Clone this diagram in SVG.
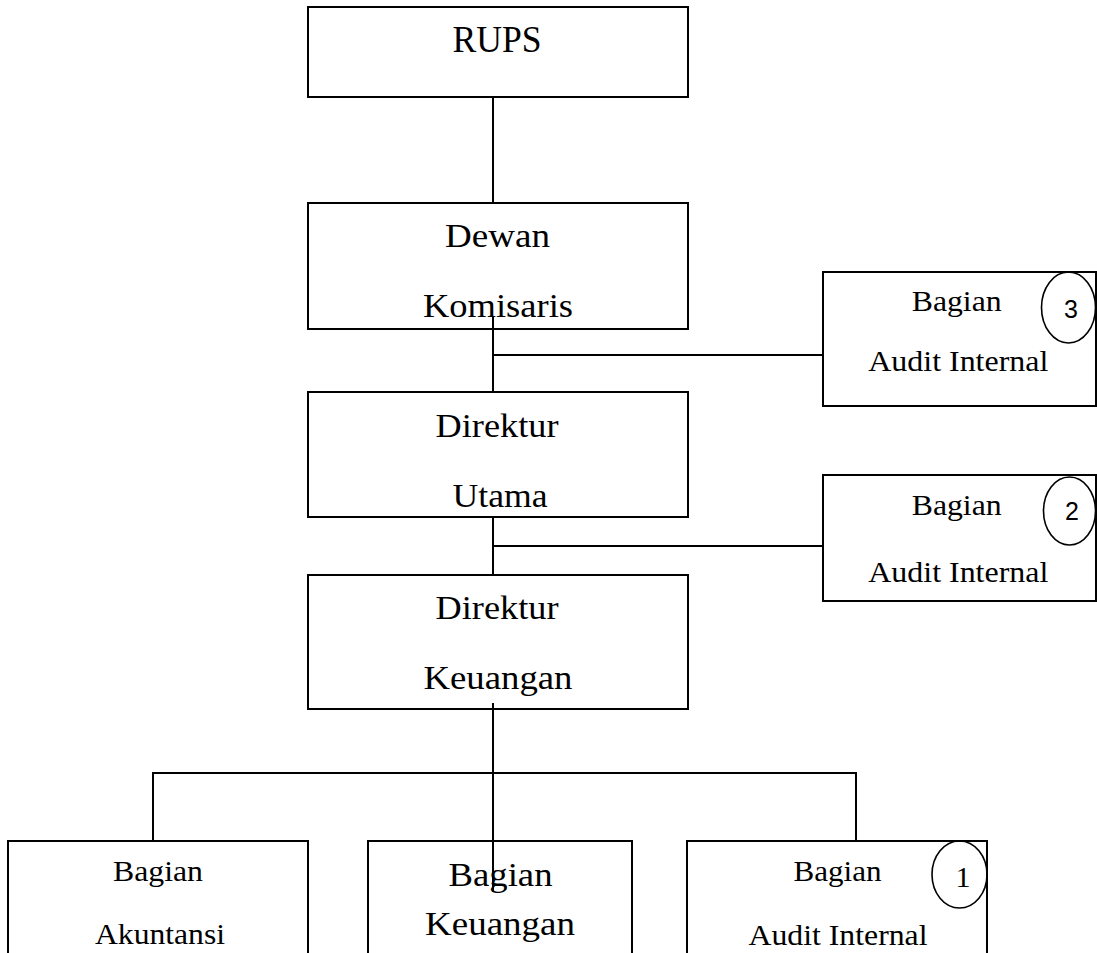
<svg xmlns="http://www.w3.org/2000/svg" width="1097" height="953" viewBox="0 0 1097 953">
<style>
.box{fill:#fff;stroke:#000;stroke-width:2}
.ov{fill:none;stroke:#000;stroke-width:1.6}
.ln{stroke:#000;stroke-width:2;fill:none}
.t{font-family:"Liberation Serif","Times New Roman",serif;fill:#000;text-anchor:middle}
.L{font-size:34px}
.S{font-size:30px}
.n{font-family:"Liberation Sans",Arial,sans-serif;font-size:25px;fill:#000;text-anchor:middle}
</style>
<rect width="1097" height="953" fill="#fff"/>
<g id="node-rups">
<rect class="box" x="308" y="7" width="380" height="90"/>
<text class="t" x="497" y="52" style="font-size:37px" textLength="89" lengthAdjust="spacingAndGlyphs">RUPS</text>
</g>
<g id="node-dewan">
<rect class="box" x="308" y="203" width="380" height="126"/>
<text class="t L" x="497.5" y="247" textLength="105" lengthAdjust="spacingAndGlyphs">Dewan</text>
<text class="t L" x="498" y="317" textLength="150" lengthAdjust="spacingAndGlyphs">Komisaris</text>
</g>
<g id="node-dirut">
<rect class="box" x="308" y="392" width="380" height="125"/>
<text class="t L" x="497" y="437" textLength="123" lengthAdjust="spacingAndGlyphs">Direktur</text>
<text class="t L" x="500" y="507" textLength="95" lengthAdjust="spacingAndGlyphs">Utama</text>
</g>
<g id="node-dirkeu">
<rect class="box" x="308" y="575" width="380" height="134"/>
<text class="t L" x="497" y="619" textLength="123" lengthAdjust="spacingAndGlyphs">Direktur</text>
<text class="t L" x="498" y="689" textLength="149" lengthAdjust="spacingAndGlyphs">Keuangan</text>
</g>
<g id="node-audit3">
<rect class="box" x="823" y="272" width="273" height="134"/>
<text class="t S" x="956.7" y="311" textLength="90" lengthAdjust="spacingAndGlyphs">Bagian</text>
<text class="t S" x="958.3" y="371" textLength="180" lengthAdjust="spacingAndGlyphs">Audit Internal</text>
<ellipse class="ov" cx="1068.5" cy="307.5" rx="27" ry="35.5"/>
<text class="n" x="1071" y="318">3</text>
</g>
<g id="node-audit2">
<rect class="box" x="823" y="475" width="273" height="126"/>
<text class="t S" x="956.7" y="515" textLength="90" lengthAdjust="spacingAndGlyphs">Bagian</text>
<text class="t S" x="958.3" y="582" textLength="180" lengthAdjust="spacingAndGlyphs">Audit Internal</text>
<ellipse class="ov" cx="1069.5" cy="511" rx="26" ry="34"/>
<text class="n" x="1072" y="520">2</text>
</g>
<g id="node-akuntansi">
<rect class="box" x="8" y="841" width="300" height="130"/>
<text class="t S" x="158" y="881" textLength="90" lengthAdjust="spacingAndGlyphs">Bagian</text>
<text class="t S" x="160" y="944" textLength="130" lengthAdjust="spacingAndGlyphs">Akuntansi</text>
</g>
<g id="node-keuangan">
<rect class="box" x="368" y="841" width="264" height="130"/>
<text class="t L" x="500.5" y="886" textLength="104" lengthAdjust="spacingAndGlyphs">Bagian</text>
<text class="t L" x="500" y="935" textLength="150" lengthAdjust="spacingAndGlyphs">Keuangan</text>
</g>
<g id="node-audit1">
<rect class="box" x="687" y="841" width="300" height="130"/>
<text class="t S" x="837.5" y="881" textLength="88" lengthAdjust="spacingAndGlyphs">Bagian</text>
<text class="t S" x="838" y="945" textLength="179" lengthAdjust="spacingAndGlyphs">Audit Internal</text>
<ellipse class="ov" cx="959.5" cy="874.5" rx="27.5" ry="33.5"/>
<text class="t" x="963" y="887" style="font-size:30px">1</text>
</g>
<g id="connectors">
<line class="ln" x1="493" y1="97" x2="493" y2="203"/>
<line class="ln" x1="493" y1="317" x2="493" y2="392"/>
<line class="ln" x1="493" y1="355" x2="823" y2="355"/>
<line class="ln" x1="493" y1="517" x2="493" y2="575"/>
<line class="ln" x1="493" y1="546" x2="823" y2="546"/>
<line class="ln" x1="493" y1="703" x2="493" y2="892"/>
<polyline class="ln" points="153,841 153,773 856,773 856,841"/>
</g>
</svg>
